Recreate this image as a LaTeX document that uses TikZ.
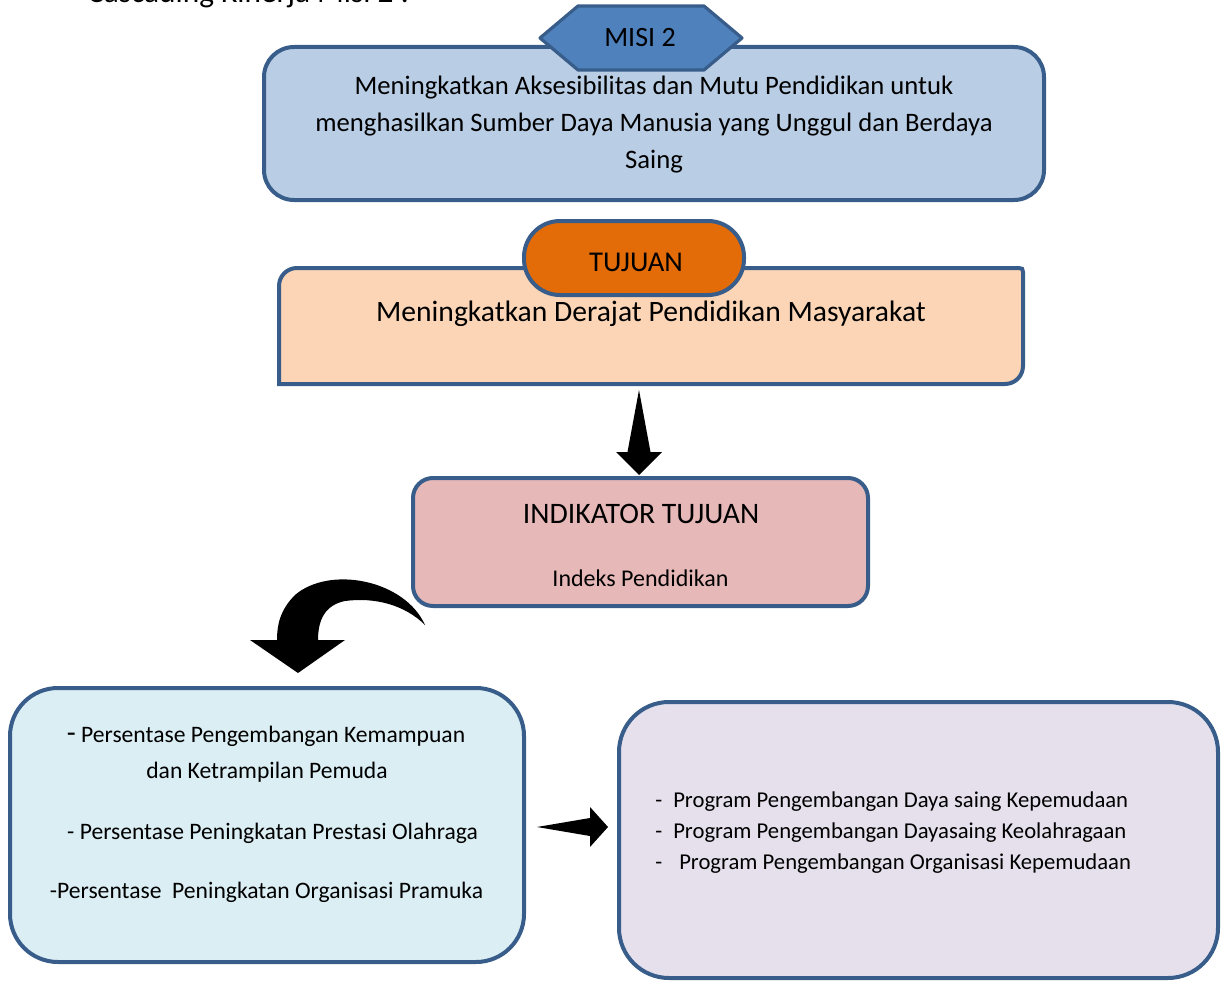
\documentclass[tikz,border=0pt]{standalone}
\usepackage{fontspec}
\setmainfont{Carlito}
\definecolor{bordc}{RGB}{56,93,138}
\definecolor{topfill}{RGB}{185,205,229}
\definecolor{hexfill}{RGB}{79,129,189}
\definecolor{tujfill}{RGB}{251,213,181}
\definecolor{pillfill}{RGB}{227,108,9}
\definecolor{indfill}{RGB}{230,185,184}
\definecolor{leftfill}{RGB}{218,238,243}
\definecolor{rightfill}{RGB}{229,224,236}
\newcommand{\fs}[1]{\fontsize{#1}{1.2\dimexpr#1pt\relax}\selectfont}
\tikzset{
  boxshape/.style={draw=bordc, line width=3pt, rectangle, inner sep=0pt},
  txt/.style={inner sep=0pt, anchor=base, text=black},
  txtw/.style={inner sep=0pt, anchor=base west, text=black},
  blockarrow/.style={fill=black, draw=none}
}
\begin{document}
\begin{tikzpicture}[x=0.75pt,y=-0.75pt]
\useasboundingbox (0,0) rectangle (1222,981);
% title (cut off at top)
\node[txtw] (title) at (87,2.5) {\fs{23.5}Cascading Kinerja Misi 2 :};

% MISI box
\node[boxshape, fill=topfill, rounded corners=22.5pt, minimum width=585pt, minimum height=114.75pt] (misibox) at (654,123.5) {};
\draw[draw=bordc, fill=hexfill, line width=2.4pt, line join=round] (540,38) -- (578,6) -- (704,6) -- (742,38) -- (704,70) -- (578,70) -- cycle;
\node[txt] (misi) at (640,47) {\fs{21}MISI 2};
\node[txt] (m1) at (654,95) {\fs{20}Meningkatkan Aksesibilitas dan Mutu Pendidikan untuk};
\node[txt] (m2) at (654,132) {\fs{20}menghasilkan Sumber Daya Manusia yang Unggul dan Berdaya};
\node[txt] (m3) at (654,169) {\fs{20}Saing};

% TUJUAN box
\draw[draw=bordc, fill=tujfill, line width=3pt]
  (279,384) -- (279,286) .. controls (279,276) and (287,268) .. (297,268)
  -- (1019,268) .. controls (1022,268) and (1023,269) .. (1023,272)
  -- (1023,366) .. controls (1023,376) and (1015,384) .. (1005,384) -- cycle;
\node[inner sep=0pt] (tujbox) at (651,326) {};
\node[boxshape, fill=pillfill, rounded corners=27pt, minimum width=165pt, minimum height=55.5pt] (pill) at (634,258) {};
\node[txt] (tuj) at (636,271) {\fs{21.5}TUJUAN};
\node[txt] (tujtext) at (651,321) {\fs{22.2}Meningkatkan Derajat Pendidikan Masyarakat};

% down arrow
\fill[blockarrow] (639,390) -- (650.5,452) -- (662,452) -- (639,475) -- (616,452) -- (627.5,452) -- cycle;

% INDIKATOR box
\node[boxshape, fill=indfill, rounded corners=15pt, minimum width=341.25pt, minimum height=96pt] (ind) at (640.5,542) {};
\node[txt] (indt) at (641,523) {\fs{22.3}INDIKATOR TUJUAN};
\node[txt] (indp) at (640.5,586.5) {\fs{18}Indeks Pendidikan};

% curved arrow
\fill[blockarrow] (425,625) .. controls (405,580) and (330,565) .. (295,595)
  .. controls (280,610) and (277,625) .. (277,640)
  -- (250,640) -- (298,673) -- (345,640) -- (318,640)
  .. controls (318,620) and (325,605) .. (345,601)
  .. controls (375,597) and (405,605) .. (425,625) -- cycle;

% left bottom box
\node[boxshape, fill=leftfill, rounded corners=36pt, minimum width=385.5pt, minimum height=205.5pt] (left) at (267,825) {};
\node[txt] (l1) at (266,742) {\fs{17.7}{\fs{22}-} Persentase Pengembangan Kemampuan};
\node[txt] (l2) at (267,778) {\fs{17.7}dan Ketrampilan Pemuda};
\node[txt] (l3) at (272.5,839) {\fs{17.7}- Persentase Peningkatan Prestasi Olahraga};
\node[txt] (l4) at (266.5,898) {\fs{17.7}-Persentase\ \ Peningkatan Organisasi Pramuka};

% right arrow
\fill[blockarrow] (537,827) -- (590,818) -- (590,807) -- (608,827) -- (590,847) -- (590,836) -- cycle;

% right bottom box
\node[boxshape, fill=rightfill, rounded corners=37.5pt, minimum width=449.25pt, minimum height=207pt] (right) at (918.5,840) {};
\node[txtw] (r1) at (655,807) {\fs{17}-\hspace{8.3pt}Program Pengembangan Daya saing Kepemudaan};
\node[txtw] (r2) at (655,838) {\fs{17}-\hspace{8.3pt}Program Pengembangan Dayasaing Keolahragaan};
\node[txtw] (r3) at (655,869) {\fs{17}-\hspace{12.8pt}Program Pengembangan Organisasi Kepemudaan};
\end{tikzpicture}
\end{document}
